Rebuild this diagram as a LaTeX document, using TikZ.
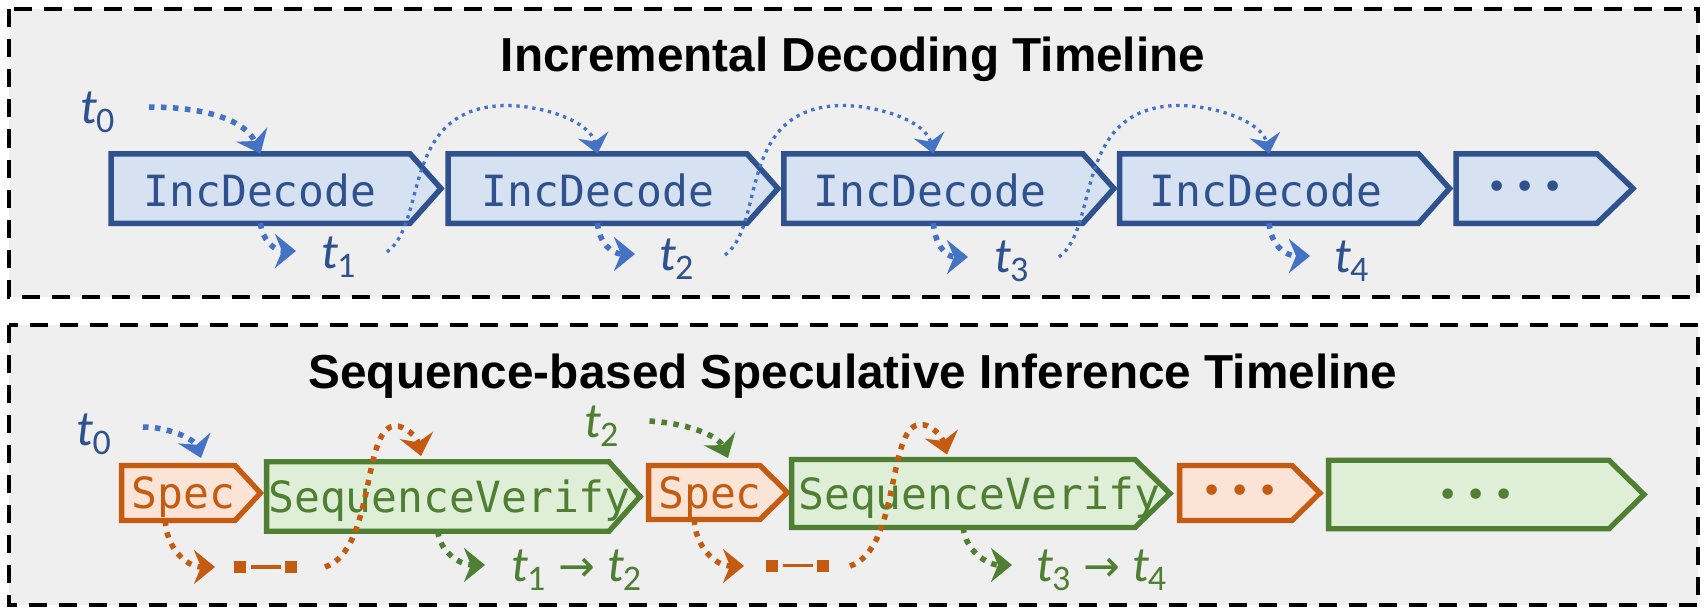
\documentclass[tikz,border=0pt]{standalone}
\usepackage{fontspec}
\usetikzlibrary{arrows.meta}
\newfontfamily\ttlfont{Liberation Sans}
\newfontfamily\codefont{DejaVu Sans Mono}
\newfontfamily\bulfont{DejaVu Sans}
\newfontfamily\labfont{Carlito}
\definecolor{panelgray}{HTML}{EFEFEF}
\definecolor{bdark}{HTML}{2F528F}
\definecolor{bmid}{HTML}{4472C4}
\definecolor{bfill}{HTML}{D6E1F1}
\definecolor{odark}{HTML}{C55A11}
\definecolor{ofill}{HTML}{FBE3D5}
\definecolor{gdark}{HTML}{4F7F32}
\definecolor{gfill}{HTML}{DFEED6}
\newcommand{\mychev}[3]{\path[#3] (#1.north west) -- (#1.north east) -- ([xshift=#2]#1.east) -- (#1.south east) -- (#1.south west) -- cycle;}
\newcommand{\tsub}[1]{\textit{t}\kern-1pt\raisebox{-9pt}{\fontsize{36}{36}\selectfont #1}}
\newcommand{\myarr}{\hspace{13pt}{\bulfont\fontsize{44}{44}\selectfont →}\hspace{12pt}}
\tikzset{
  panel/.style={draw=black, fill=panelgray, line width=4pt, dash pattern=on 18pt off 12pt},
  body/.style={inner sep=0pt, outer sep=0pt, draw=none},
  incshape/.style={draw=bdark, fill=bfill, line width=5.5pt, line join=miter},
  specshape/.style={draw=odark, fill=ofill, line width=5.3pt, line join=miter},
  verishape/.style={draw=gdark, fill=gfill, line width=5.3pt, line join=miter},
  code/.style={font=\codefont\fontsize{43}{43}\selectfont, inner sep=0pt, anchor=base},
  bul/.style={font=\bulfont\fontsize{36}{36}\selectfont, inner sep=0pt, anchor=center},
  lab/.style={font=\labfont\fontsize{50}{50}\selectfont, inner sep=0pt, anchor=base west},
  ttl/.style={font=\ttlfont\bfseries\fontsize{47.7}{48}\selectfont, inner sep=0pt, anchor=base},
  dotA/.style={line width=5.5pt, dash pattern=on 5.5pt off 6.5pt, arrows={-Stealth[length=21pt,width=34pt,inset=7pt]}},
  dotB/.style={line width=3.3pt, dash pattern=on 3.3pt off 4.7pt, arrows={-Stealth[length=19pt,width=31pt,inset=6.5pt]}},
  sq/.style={fill=odark, minimum size=12pt, inner sep=0pt, outer sep=0pt},
  bar/.style={draw=odark, line width=3.5pt, shorten <=5pt, shorten >=4pt}
}
\begin{document}
\begin{tikzpicture}[x=1pt,y=-1pt]
\fill[white] (0,0) rectangle (1707,615);
\useasboundingbox (0,0) rectangle (1707,615);
% panels
\path[panel] (8.5,9.5) rectangle (1698,296.5);
\path[panel] (8.5,325) rectangle (1698,605);
\node[ttl] (title1) at (853,72) {Incremental Decoding Timeline};
\node[ttl] (title2) at (853,388) {Sequence-based Speculative Inference Timeline};
% ---------- top row ----------
\node[body, minimum width=299, minimum height=69.5] (b1) at (260.5,188.5) {};
\node[body, minimum width=299, minimum height=69.5] (b2) at (597.5,188.5) {};
\node[body, minimum width=299, minimum height=69.5] (b3) at (933.4,188.5) {};
\node[body, minimum width=299, minimum height=69.5] (b4) at (1269,188.5) {};
\node[body, minimum width=141, minimum height=69.5] (b5) at (1526.5,188.5) {};
\mychev{b1}{31}{incshape}
\mychev{b2}{31}{incshape}
\mychev{b3}{31}{incshape}
\mychev{b4}{31}{incshape}
\mychev{b5}{36}{incshape}
\node[code, text=bdark] (x1) at (260,206.5) {IncDecode};
\node[code, text=bdark] (x2) at (598,206.5) {IncDecode};
\node[code, text=bdark] (x3) at (930,206.5) {IncDecode};
\node[code, text=bdark] (x4) at (1266,206.5) {IncDecode};
\node[bul, text=bdark] (x5) at (1525,190) {•\hspace{7pt}•\hspace{7pt}•};
\node[lab, text=bdark] (ta0) at (80,124) {\tsub{0}};
\node[lab, text=bdark] (ta1) at (321,268) {\tsub{1}};
\node[lab, text=bdark] (ta2) at (659,270) {\tsub{2}};
\node[lab, text=bdark] (ta3) at (994,272) {\tsub{3}};
\node[lab, text=bdark] (ta4) at (1334,272) {\tsub{4}};
\coordinate (s0) at (149,107);
\coordinate (d1) at (296,251);
\coordinate (d2) at (635,254);
\coordinate (d3) at (968,257);
\coordinate (d4) at (1310,256);
\coordinate (c1s) at (387,252);
\coordinate (c1m) at (505,105.5);
\coordinate (c2s) at (725,255);
\coordinate (c2m) at (841,105.5);
\coordinate (c3s) at (1059,257);
\coordinate (c3m) at (1177,105.5);
\draw[dotA, bmid] (s0) .. controls (205,107) and (245,120) .. (b1.north);
\draw[dotA, bmid] (b1.south) .. controls (262,240) and (275,251) .. (d1);
\draw[dotA, bmid] (b2.south) .. controls (599,243) and (612,254) .. (d2);
\draw[dotA, bmid] (b3.south) .. controls (935,245) and (946,257) .. (d3);
\draw[dotA, bmid] (b4.south) .. controls (1271,245) and (1285,256) .. (d4);
\draw[dotB, bmid] (c1s) .. controls (428,222) and (400,108) .. (c1m) .. controls (545,105.5) and (590,122) .. (b2.north);
\draw[dotB, bmid] (c2s) .. controls (766,225) and (736,108) .. (c2m) .. controls (881,105.5) and (926,122) .. (b3.north);
\draw[dotB, bmid] (c3s) .. controls (1100,227) and (1072,108) .. (c3m) .. controls (1217,105.5) and (1262,122) .. (b4.north);
% ---------- bottom row ----------
\node[body, minimum width=113.4, minimum height=55] (sp1) at (178.3,493) {};
\node[body, minimum width=342.4, minimum height=69.6] (sv1) at (437.8,496.5) {};
\node[body, minimum width=111.4, minimum height=54] (sp2) at (704.3,492.5) {};
\node[body, minimum width=343.4, minimum height=68] (sv2) at (963.3,493.5) {};
\node[body, minimum width=112.4, minimum height=55] (sp3) at (1235.8,493) {};
\node[body, minimum width=280.4, minimum height=68.5] (sv3) at (1468.8,494.5) {};
\mychev{sp1}{25.5}{specshape}
\mychev{sv1}{31}{verishape}
\mychev{sp2}{27.5}{specshape}
\mychev{sv2}{35}{verishape}
\mychev{sp3}{28}{specshape}
\mychev{sv3}{35}{verishape}
\node[code, text=odark] (y1) at (183.5,508.5) {Spec};
\node[code, text=gdark] (y2) at (449.5,512) {SequenceVerify};
\node[code, text=odark] (y3) at (710,508.5) {Spec};
\node[code, text=gdark] (y4) at (979.5,509) {SequenceVerify};
\node[bul, text=odark] (y5) at (1240,494) {•\hspace{7pt}•\hspace{7pt}•};
\node[bul, text=gdark] (y6) at (1476,498) {•\hspace{7pt}•\hspace{7pt}•};
\node[lab, text=bdark] (tb0) at (76.5,445) {\tsub{0}};
\node[lab, text=gdark] (tb2) at (584,437) {\tsub{2}};
\node[lab, text=gdark] (tb12) at (511,581) {\tsub{1}\myarr\tsub{2}};
\node[lab, text=gdark] (tb34) at (1036,581) {\tsub{3}\myarr\tsub{4}};
\node[sq] (m1a) at (240,567) {};
\node[sq] (m1b) at (291,567) {};
\node[sq] (m2a) at (772,565.5) {};
\node[sq] (m2b) at (823,565.5) {};
\draw[bar] (m1a) -- (m1b);
\draw[bar] (m2a) -- (m2b);
\coordinate (u0) at (143,427);
\coordinate (e0) at (201,458);
\coordinate (o1s) at ([xshift=-13]sp1.south);
\coordinate (o1e) at (215,567);
\coordinate (o2s) at ([xshift=-10]sp2.south);
\coordinate (o2e) at (744,566);
\coordinate (q1s) at (325,567);
\coordinate (q1m) at (394,426);
\coordinate (q1e) at (421,456);
\coordinate (q2s) at (850,566);
\coordinate (q2m) at (919,424.5);
\coordinate (q2e) at (947,454.5);
\coordinate (g1e) at (485,565);
\coordinate (g2e) at (1012,565);
\coordinate (g0s) at (649.5,421);
\coordinate (g0e) at (728,458);
\draw[dotA, bmid] (u0) .. controls (170,427) and (195,440) .. (e0);
\draw[dotA, odark] (o1s) .. controls (166,546) and (185,567) .. (o1e);
\draw[dotA, odark] (o2s) .. controls (695,545) and (714,566) .. (o2e);
\draw[dotA, odark] (q1s) .. controls (375,550) and (362,430) .. (q1m) .. controls (406,425) and (417,438) .. (q1e);
\draw[dotA, odark] (q2s) .. controls (900,549) and (887,429) .. (q2m) .. controls (931,423.5) and (942,436.5) .. (q2e);
\draw[dotA, gdark] (sv1.south) .. controls (440,552) and (460,565) .. (g1e);
\draw[dotA, gdark] (sv2.south) .. controls (965,550) and (987,565) .. (g2e);
\draw[dotA, gdark] (g0s) .. controls (685,423) and (718,435) .. (g0e);
\end{tikzpicture}
\end{document}
